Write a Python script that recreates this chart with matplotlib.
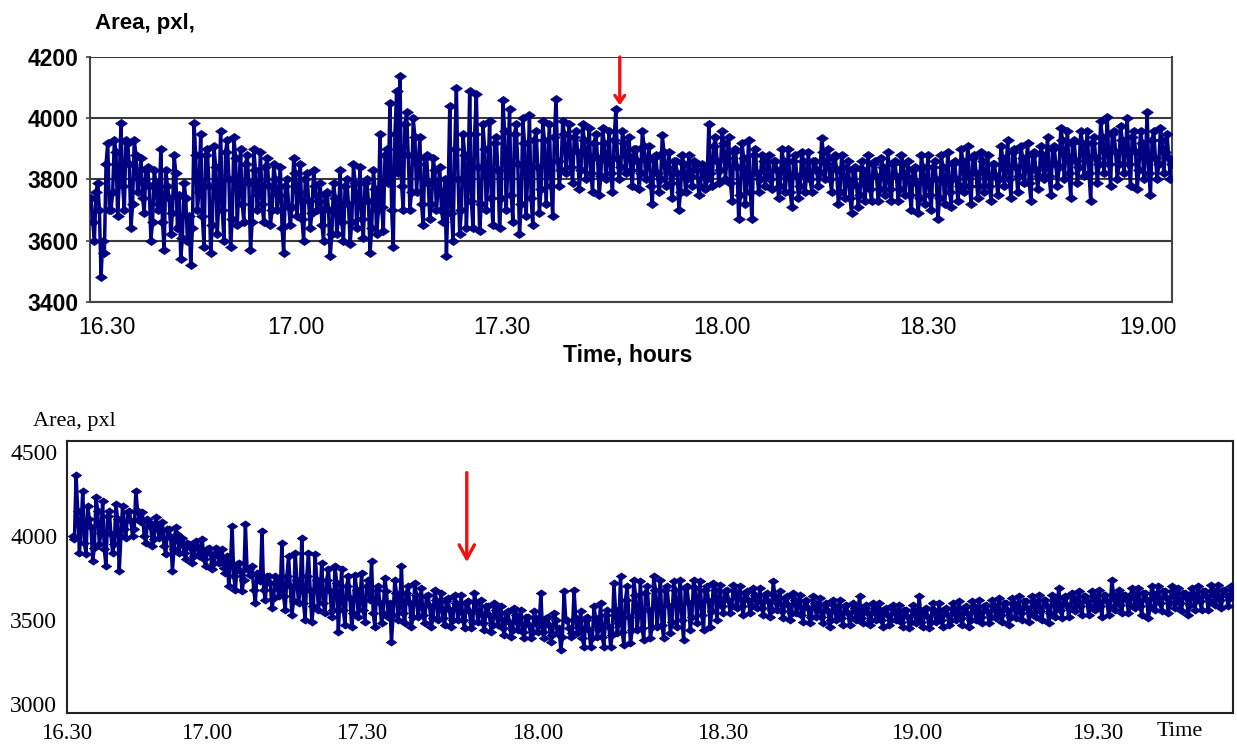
import numpy as np
import matplotlib
matplotlib.use("Agg")
import matplotlib.pyplot as plt

# ---- data ----
# edge readings: ~3 samples per 10 px (band top / bottom / spikes)
top_area = [
    3740, 3600, 3790,  3480, 3560, 3920,  3700, 3930, 3680,  3985, 3700, 3920,
    3640, 3930, 3760,  3870, 3690, 3840,  3600, 3830, 3700,  3900, 3570, 3780,
    3620, 3880, 3640,  3540, 3790, 3600,  3520, 3985, 3700,  3950, 3580, 3900,
    3560, 3910, 3620,  3960, 3600, 3930,  3580, 3940, 3650,  3900, 3660, 3880,
    3570, 3900, 3700,  3890, 3660, 3870,  3650, 3850, 3700,  3840, 3560, 3800,
    3650, 3870, 3680,  3850, 3600, 3820,  3640, 3830, 3700,  3790, 3600, 3760,
    3550, 3790, 3620,  3830, 3600, 3800,  3590, 3850, 3640,  3840, 3610, 3800,
    3560, 3830, 3620,  3950, 3630, 3900,  4050, 3580, 4090,  4140, 3700, 4020,
    3700, 4000, 3760,  3940, 3650, 3880,  3670, 3870, 3700,  3840, 3660, 3550,
    4040, 3600, 4100,  3620, 3950, 3640,  4090, 3640, 4080,  3630, 3980, 3700,
    3990, 3650, 3940,  3640, 4060, 3700,  4030, 3660, 3980,  3620, 4000, 3680,
    4010, 3650, 3960,  3690, 3990, 3720,  3980, 3680, 4065,  3780, 3990, 3820,
    3980, 3790, 3960,  3770, 3980, 3800,  3970, 3760, 3950,  3750, 3970, 3800,
    3960, 3760, 4030,  3800, 3960, 3820,  3940, 3780, 3900,  3770, 3960, 3800,
    3910, 3720, 3880,  3760, 3945, 3780,  3890, 3740, 3860,  3700, 3880, 3760,
    3880, 3780, 3850,  3750, 3850, 3770,  3980, 3780, 3940,  3790, 3960, 3800,
    3940, 3730, 3900,  3670, 3920, 3720,  3930, 3670, 3900,  3760, 3880, 3780,
    3880, 3770, 3860,  3740, 3900, 3760,  3900, 3710, 3880,  3740, 3890, 3760,
    3890, 3760, 3860,  3780, 3935, 3800,  3900, 3760, 3880,  3720, 3880, 3740,
    3860, 3690, 3840,  3710, 3860, 3730,  3880, 3730, 3860,  3730, 3870, 3750,
    3890, 3730, 3860,  3730, 3880, 3750,  3860, 3700, 3840,  3690, 3880, 3720,
    3880, 3700, 3860,  3670, 3880, 3720,  3890, 3710, 3860,  3730, 3900, 3760,
    3910, 3720, 3880,  3740, 3890, 3760,  3880, 3730, 3850,  3750, 3910, 3780,
    3930, 3740, 3900,  3760, 3910, 3790,  3920, 3730, 3890,  3770, 3910, 3800,
    3940, 3750, 3910,  3780, 3970, 3800,  3960, 3740, 3930,  3790, 3960, 3810,
    3960, 3730, 3940,  3790, 3990, 3820,  4005, 3780, 3960,  3800, 3975, 3820,
    4000, 3780, 3960,  3770, 3960, 3800,  4020, 3750, 3960,  3800, 3970, 3820,
    3950, 3800,
]
# inner readings of the solid band, taken between the edge samples
top_inner = [
    3660, 3760, 3700,  3600, 3850, 3700,  3760, 3890, 3800,  3780, 3930, 3850,
    3720, 3880, 3800,  3740, 3830, 3780,  3660, 3790, 3720,  3660, 3830, 3740,
    3690, 3820, 3750,  3610, 3740, 3680,  3640, 3880, 3760,  3680, 3880, 3780,
    3650, 3840, 3740,  3700, 3890, 3800,  3670, 3870, 3770,  3720, 3850, 3790,
    3660, 3830, 3750,  3720, 3840, 3780,  3700, 3800, 3750,  3640, 3780, 3710,
    3710, 3820, 3760,  3670, 3800, 3730,  3690, 3780, 3730,  3650, 3750, 3700,
    3620, 3740, 3680,  3660, 3780, 3720,  3660, 3790, 3730,  3670, 3790, 3730,
    3640, 3770, 3700,  3710, 3880, 3790,  3700, 3950, 3820,  3780, 3980, 3880,
    3760, 3940, 3850,  3720, 3870, 3790,  3720, 3830, 3770,  3700, 3800, 3750,
    3690, 3900, 3800,  3700, 3880, 3790,  3730, 3950, 3840,  3720, 3900, 3810,
    3740, 3920, 3830,  3740, 3960, 3850,  3750, 3950, 3850,  3720, 3920, 3820,
    3740, 3930, 3840,  3770, 3930, 3850,  3780, 3940, 3860,  3830, 3950, 3890,
    3840, 3940, 3890,  3830, 3930, 3880,  3820, 3920, 3870,  3810, 3920, 3860,
    3820, 3930, 3870,  3840, 3920, 3880,  3830, 3900, 3860,  3820, 3910, 3860,
    3780, 3870, 3820,  3800, 3890, 3840,  3790, 3860, 3820,  3760, 3850, 3800,
    3810, 3860, 3830,  3780, 3830, 3800,  3820, 3910, 3860,  3830, 3920, 3870,
    3790, 3890, 3840,  3750, 3870, 3810,  3760, 3880, 3820,  3800, 3860, 3820,
    3800, 3860, 3830,  3780, 3860, 3820,  3760, 3860, 3810,  3780, 3860, 3820,
    3800, 3860, 3830,  3820, 3890, 3850,  3800, 3870, 3830,  3760, 3840, 3800,
    3740, 3830, 3780,  3750, 3830, 3790,  3770, 3850, 3810,  3770, 3840, 3800,
    3770, 3850, 3810,  3770, 3850, 3810,  3750, 3830, 3790,  3740, 3840, 3790,
    3750, 3840, 3800,  3740, 3840, 3790,  3760, 3850, 3800,  3780, 3860, 3820,
    3780, 3870, 3820,  3780, 3860, 3820,  3780, 3850, 3810,  3800, 3870, 3830,
    3800, 3890, 3840,  3810, 3870, 3840,  3790, 3880, 3830,  3810, 3880, 3840,
    3810, 3900, 3850,  3840, 3930, 3880,  3820, 3920, 3860,  3840, 3920, 3880,
    3820, 3920, 3870,  3850, 3940, 3890,  3850, 3950, 3890,  3850, 3930, 3890,
    3850, 3940, 3890,  3830, 3920, 3870,  3820, 3930, 3870,  3850, 3930, 3890,
    3870, 3850,
]

bottom_area = [
    4000, 4360, 3900,  4270, 3890, 4100,  3850, 4230, 3950,  4210, 3820, 4150,
    3900, 4190, 3790,  4180, 3990, 4150,  4000, 4270, 4100,  4140, 3960, 4080,
    3940, 4110, 3990,  4080, 3890, 4040,  3790, 4050, 3900,  3990, 3860, 3950,
    3840, 3970, 3880,  3980, 3820, 3930,  3800, 3930, 3840,  3920, 3780, 3700,
    4060, 3680, 3840,  3670, 4070, 3800,  3820, 3600, 3780,  4030, 3620, 3760,
    3570, 3760, 3640,  3960, 3560, 3880,  3530, 3900, 3600,  3990, 3500, 3900,
    3490, 3890, 3560,  3840, 3540, 3800,  3520, 3820, 3430,  3800, 3470, 3760,
    3460, 3770, 3520,  3780, 3490, 3740,  3850, 3460, 3700,  3480, 3750, 3520,
    3370, 3740, 3500,  3820, 3480, 3700,  3460, 3720, 3520,  3690, 3480, 3650,
    3460, 3680, 3500,  3660, 3470, 3630,  3460, 3650, 3500,  3650, 3450, 3610,
    3450, 3660, 3490,  3620, 3440, 3580,  3430, 3600, 3470,  3580, 3410, 3550,
    3400, 3570, 3440,  3560, 3390, 3520,  3390, 3550, 3430,  3660, 3390, 3520,
    3370, 3540, 3420,  3320, 3670, 3500,  3400, 3680, 3420,  3550, 3340, 3520,
    3340, 3580, 3400,  3600, 3340, 3560,  3340, 3720, 3420,  3760, 3350, 3700,
    3360, 3740, 3440,  3730, 3380, 3700,  3390, 3760, 3460,  3740, 3390, 3700,
    3420, 3730, 3460,  3740, 3380, 3700,  3440, 3740, 3480,  3730, 3440, 3700,
    3460, 3720, 3500,  3710, 3540, 3680,  3540, 3710, 3570,  3700, 3530, 3670,
    3540, 3690, 3570,  3690, 3530, 3660,  3520, 3730, 3560,  3670, 3510, 3640,
    3500, 3660, 3540,  3650, 3490, 3620,  3480, 3640, 3520,  3630, 3480, 3600,
    3460, 3620, 3500,  3620, 3470, 3590,  3470, 3600, 3500,  3640, 3480, 3590,
    3470, 3600, 3500,  3600, 3460, 3570,  3470, 3590, 3500,  3590, 3460, 3560,
    3450, 3590, 3480,  3640, 3460, 3570,  3450, 3600, 3490,  3600, 3460, 3570,
    3470, 3600, 3500,  3610, 3470, 3580,  3460, 3610, 3500,  3620, 3480, 3590,
    3480, 3620, 3510,  3630, 3490, 3600,  3470, 3630, 3510,  3640, 3500, 3610,
    3490, 3640, 3520,  3650, 3500, 3620,  3480, 3650, 3520,  3690, 3510, 3640,
    3520, 3660, 3550,  3670, 3530, 3640,  3530, 3670, 3560,  3680, 3520, 3650,
    3530, 3740, 3560,  3680, 3540, 3650,  3540, 3690, 3570,  3690, 3530, 3660,
    3510, 3700, 3560,  3700, 3550, 3670,  3540, 3700, 3570,  3690, 3550, 3660,
    3530, 3690, 3560,  3700, 3560, 3670,  3560, 3710, 3590,  3710, 3570, 3680,
    3580, 3700,
]
bottom_inner = [
    3980, 4150, 4050,  3960, 4180, 4050,  3930, 4150, 4020,  3920, 4120, 4010,
    3950, 4100, 4000,  4040, 4140, 4090,  4040, 4150, 4080,  4000, 4100, 4050,
    3980, 4070, 4030,  3940, 4040, 3990,  3920, 4010, 3960,  3900, 3960, 3930,
    3880, 3940, 3900,  3860, 3920, 3890,  3840, 3900, 3870,  3810, 3880, 3840,
    3760, 3830, 3790,  3740, 3800, 3770,  3680, 3780, 3730,  3680, 3760, 3720,
    3630, 3730, 3680,  3640, 3760, 3700,  3610, 3740, 3680,  3600, 3760, 3680,
    3580, 3740, 3660,  3600, 3740, 3670,  3560, 3720, 3640,  3560, 3700, 3630,
    3540, 3680, 3610,  3560, 3700, 3620,  3540, 3680, 3600,  3540, 3670, 3600,
    3530, 3660, 3590,  3540, 3660, 3600,  3520, 3650, 3580,  3530, 3640, 3580,
    3510, 3620, 3570,  3510, 3610, 3560,  3500, 3600, 3550,  3500, 3600, 3550,
    3490, 3600, 3540,  3480, 3580, 3530,  3470, 3560, 3510,  3450, 3540, 3490,
    3440, 3530, 3480,  3430, 3520, 3470,  3430, 3510, 3470,  3430, 3510, 3470,
    3410, 3500, 3450,  3400, 3500, 3450,  3420, 3510, 3460,  3390, 3500, 3440,
    3390, 3510, 3450,  3400, 3530, 3460,  3410, 3560, 3480,  3430, 3620, 3520,
    3440, 3650, 3540,  3450, 3660, 3560,  3460, 3680, 3570,  3470, 3680, 3580,
    3490, 3680, 3590,  3500, 3690, 3600,  3520, 3690, 3610,  3530, 3680, 3610,
    3550, 3680, 3620,  3580, 3670, 3620,  3580, 3670, 3630,  3580, 3660, 3620,
    3580, 3650, 3610,  3570, 3650, 3610,  3560, 3640, 3600,  3550, 3630, 3590,
    3540, 3620, 3580,  3530, 3610, 3570,  3520, 3600, 3560,  3520, 3590, 3550,
    3500, 3580, 3540,  3510, 3580, 3540,  3510, 3570, 3540,  3510, 3570, 3540,
    3500, 3570, 3530,  3500, 3560, 3530,  3500, 3560, 3530,  3490, 3560, 3520,
    3490, 3560, 3520,  3490, 3560, 3520,  3490, 3560, 3520,  3500, 3560, 3530,
    3500, 3570, 3530,  3510, 3570, 3540,  3500, 3580, 3540,  3520, 3580, 3550,
    3520, 3590, 3550,  3530, 3600, 3560,  3520, 3600, 3560,  3540, 3610, 3570,
    3540, 3610, 3570,  3550, 3620, 3580,  3540, 3620, 3580,  3560, 3630, 3590,
    3570, 3630, 3600,  3580, 3640, 3610,  3580, 3640, 3610,  3580, 3650, 3610,
    3580, 3650, 3620,  3590, 3650, 3620,  3590, 3660, 3620,  3580, 3660, 3620,
    3580, 3660, 3620,  3600, 3670, 3630,  3600, 3670, 3630,  3600, 3660, 3630,
    3590, 3660, 3620,  3610, 3670, 3640,  3610, 3680, 3640,  3620, 3680, 3650,
    3630, 3660,
]

top_tick_labels = ["16.30", "17.00", "17.30", "18.00", "18.30", "19.00"]
bottom_tick_labels = ["16.30", "17.00", "17.30", "18.00", "18.30", "19.00", "19.30"]

# label positions on the time axis (minutes after 16:30), as spaced in the source
top_tick_pos = [0, 27.2, 56.9, 88.6, 118.3, 150.0]
bottom_tick_pos = [0, 24.4, 51.5, 82.1, 114.4, 148.4, 180.0]

navy = "#000080"
flat_diamond = [(-1, 0), (0, 0.7), (1, 0), (0, -0.7), (-1, 0)]

# merge edge and inner readings into one time-ordered series
top_series = np.column_stack([top_area, top_inner]).ravel()
bottom_series = np.column_stack([bottom_area, bottom_inner]).ravel()

fig = plt.figure(figsize=(12.37, 7.44), dpi=100)

# ---------------- top panel ----------------
ax1 = fig.add_axes([0.0728, 0.5945, 0.8747, 0.3285])
t1 = np.linspace(-2.3, 153.5, len(top_series))
ax1.plot(t1, top_series, color=navy, lw=2.5, marker=flat_diamond,
         markersize=8.5, markeredgewidth=0.5, zorder=3)
ax1.set_xlim(-2.45, 153.5)
ax1.set_ylim(3400, 4200)
ax1.set_yticks([3400, 3600, 3800, 4000, 4200])
ax1.set_xticks(top_tick_pos)
ax1.set_xticklabels(top_tick_labels, family="Liberation Sans", fontsize=16.5)
for lab in ax1.get_yticklabels():
    lab.set_family("Liberation Sans")
    lab.set_fontweight("bold")
    lab.set_fontsize(16.5)
ax1.tick_params(axis="x", length=0, pad=10)
ax1.tick_params(axis="y", length=3, width=1.2, pad=5, color="#444444")
ax1.grid(axis="y", color="#3a3a3a", lw=1.5)
ax1.set_axisbelow(True)
ax1.spines["top"].set_visible(False)
for s in ["left", "bottom", "right"]:
    ax1.spines[s].set_color("#444444")
    ax1.spines[s].set_linewidth(1.5)

fig.text(95 / 1237, 1 - 23 / 744, "Area, pxl,", family="Liberation Sans",
         fontweight="bold", fontsize=16, ha="left", va="center")
fig.text(628 / 1237, 1 - 355 / 744, "Time, hours", family="Liberation Sans",
         fontweight="bold", fontsize=16.5, ha="center", va="center")

ax1.annotate("", xy=(73.9, 4034), xytext=(73.9, 4210),
             arrowprops=dict(arrowstyle="->,head_length=0.5,head_width=0.35",
                             color="#ee1111", lw=2.4),
             annotation_clip=False, zorder=5)

# ---------------- bottom panel ----------------
ax2 = fig.add_axes([0.0542, 0.0417, 0.9426, 0.3656])
t2 = np.linspace(1.0, 203.6, len(bottom_series))
ax2.plot(t2, bottom_series, color=navy, lw=2.5, marker=flat_diamond,
         markersize=7.5, markeredgewidth=0.5, zorder=3)
ax2.set_xlim(0, 203.6)
ax2.set_ylim(2946, 4565)
ax2.set_yticks([3000, 3500, 4000, 4500])
ax2.set_xticks(bottom_tick_pos)
ax2.set_xticklabels(bottom_tick_labels, family="Liberation Serif", fontsize=16.5)
for lab in ax2.get_yticklabels():
    lab.set_family("Liberation Serif")
    lab.set_fontsize(17)
ax2.tick_params(axis="both", length=0)
ax2.tick_params(axis="x", pad=7)
ax2.tick_params(axis="y", pad=7)
for s in ax2.spines.values():
    s.set_color("#222222")
    s.set_linewidth(1.5)

ax2.text(194.3, -9 / 272, "Time", transform=ax2.get_xaxis_transform(),
         family="Liberation Serif", fontsize=16, ha="center", va="top")
fig.text(33 / 1237, 1 - 421.7 / 744, "Area, pxl", family="Liberation Serif",
         fontsize=16, ha="left", va="center")

ax2.annotate("", xy=(69.8, 3827), xytext=(69.8, 4393),
             arrowprops=dict(arrowstyle="->,head_length=1.0,head_width=0.55",
                             color="#ee1111", lw=2.4),
             zorder=5)

fig.savefig("out.png", dpi=100)
